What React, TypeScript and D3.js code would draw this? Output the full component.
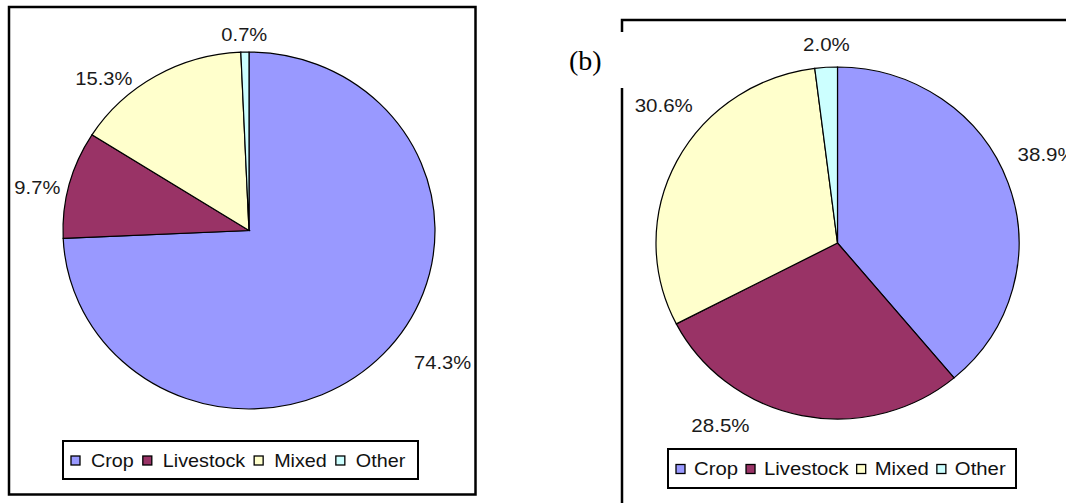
import { useEffect, useRef } from "react";
import * as d3 from "d3";

// data
const categories = ["Crop", "Livestock", "Mixed", "Other"];
const sharesA = [74.3, 9.7, 15.3, 0.7];
const sharesB = [38.9, 28.5, 30.6, 2.0];
const labelsA = ["74.3%", "9.7%", "15.3%", "0.7%"];
const labelsB = ["38.9%", "28.5%", "30.6%", "2.0%"];

const COLORS = ["#9999ff", "#993366", "#ffffcc", "#ccffff"];
const W = 1066;
const H = 503;

type PieLayout = {
  cx: number;
  cy: number;
  rx: number;
  ry: number;
  // label nudges (excel "best fit" puts them in odd spots)
  nudge: [number, number][];
  labelScale: number;
  legend: { x: number; y: number; w: number; h: number; font: number; sx: number; gap: number; textOff: number };
};

const LAYOUT_A: PieLayout = {
  cx: 249,
  cy: 230.5,
  rx: 186,
  ry: 178.5,
  nudge: [[39, -10], [-5, 10], [-38, 26], [0, 9]],
  labelScale: 1.12,
  legend: { x: 63, y: 441, w: 355, h: 38, font: 19, sx: 1.04, gap: 9, textOff: 20 },
};

const LAYOUT_B: PieLayout = {
  cx: 837.5,
  cy: 243,
  rx: 181.5,
  ry: 176,
  nudge: [[13, -19], [-76, -15.5], [11, -43], [2, 4]],
  labelScale: 1.14,
  legend: { x: 668, y: 449, w: 348, h: 39, font: 19, sx: 1.07, gap: 8, textOff: 18 },
};

function drawPie(
  root: d3.Selection<SVGGElement, unknown, null, undefined>,
  values: number[],
  labels: string[],
  L: PieLayout
) {
  const pie = d3
    .pie<number>()
    .sort(null)
    .value((d) => d);
  const arcs = pie(values);
  const arc = d3.arc<d3.PieArcDatum<number>>().innerRadius(0).outerRadius(L.ry);

  const g = root
    .append("g")
    .attr("transform", `translate(${L.cx},${L.cy}) scale(${L.rx / L.ry},1)`);

  g.selectAll("path")
    .data(arcs)
    .join("path")
    .attr("d", arc)
    .attr("fill", (_, i) => COLORS[i])
    .attr("stroke", "#000")
    .attr("stroke-width", 1.2)
    .attr("vector-effect", "non-scaling-stroke");

  const k = 1.15;
  root
    .append("g")
    .selectAll("text")
    .data(arcs)
    .join("text")
    .attr("transform", (d, i) => {
      const a = (d.startAngle + d.endAngle) / 2;
      const x = L.cx + L.rx * k * Math.sin(a) + L.nudge[i][0];
      const y = L.cy - L.ry * k * Math.cos(a) + L.nudge[i][1];
      return `translate(${x},${y}) scale(${L.labelScale},1)`;
    })
    .attr("text-anchor", "middle")
    .attr("dy", "0.35em")
    .attr("font-family", "Liberation Sans, Arial, sans-serif")
    .attr("font-size", 18)
    .attr("fill", "#1a1a1a")
    .text((_, i) => labels[i]);

  // legend
  const lg = L.legend;
  const leg = root.append("g");
  leg
    .append("rect")
    .attr("x", lg.x)
    .attr("y", lg.y)
    .attr("width", lg.w)
    .attr("height", lg.h)
    .attr("fill", "#fff")
    .attr("stroke", "#000")
    .attr("stroke-width", 2);

  const midY = lg.y + lg.h / 2;
  let x = lg.x + 8;
  categories.forEach((c, i) => {
    leg
      .append("rect")
      .attr("x", x)
      .attr("y", midY - 4)
      .attr("width", 9)
      .attr("height", 9)
      .attr("fill", COLORS[i])
      .attr("stroke", "#000")
      .attr("stroke-width", 1.3);
    const t = leg
      .append("text")
      .attr("transform", `translate(${x + lg.textOff},${midY}) scale(${lg.sx},1)`)
      .attr("dy", "0.35em")
      .attr("font-family", "Liberation Sans, Arial, sans-serif")
      .attr("font-size", lg.font)
      .attr("fill", "#111")
      .text(c);
    const tw = (t.node() as SVGTextElement).getComputedTextLength() * lg.sx;
    x = x + lg.textOff + tw + lg.gap;
  });
}

export default function App() {
  const ref = useRef<SVGSVGElement>(null);

  useEffect(() => {
    if (!ref.current) return;
    const svg = d3.select(ref.current);
    svg.selectAll("*").remove();
    const root = svg.append("g");

    root.append("rect").attr("width", W).attr("height", H).attr("fill", "#fff");

    // (a) frame
    root
      .append("rect")
      .attr("x", 9)
      .attr("y", 7)
      .attr("width", 466.5)
      .attr("height", 487.5)
      .attr("fill", "none")
      .attr("stroke", "#000")
      .attr("stroke-width", 2.5);

    // (b) frame, only top and left edges show (with a gap for the label)
    root
      .append("path")
      .attr("d", `M${W},20H622V32M622,88V${H}`)
      .attr("fill", "none")
      .attr("stroke", "#000")
      .attr("stroke-width", 2.5);

    root
      .append("text")
      .attr("x", 569)
      .attr("y", 70)
      .attr("font-family", "Liberation Serif, Times New Roman, serif")
      .attr("font-size", 28)
      .attr("fill", "#000")
      .text("(b)");

    drawPie(root, sharesA, labelsA, LAYOUT_A);
    drawPie(root, sharesB, labelsB, LAYOUT_B);
  }, []);

  return (
    <svg
      ref={ref}
      width={W}
      height={H}
      style={{ position: "absolute", left: 0, top: 0, display: "block" }}
    />
  );
}
